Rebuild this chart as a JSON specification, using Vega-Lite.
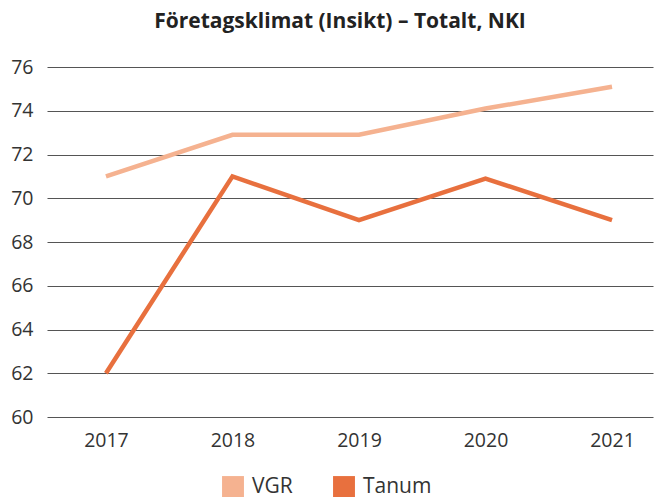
{
  "$schema": "https://vega.github.io/schema/vega-lite/v6.json",
  "width": 606,
  "height": 350,
  "autosize": "none",
  "padding": {"left": 47, "top": 67, "right": 2, "bottom": 80},
  "background": "white",
  "title": {
    "text": "Företagsklimat (Insikt) – Totalt, NKI",
    "font": "Open Sans",
    "fontSize": 21,
    "fontWeight": "bold",
    "color": "#222222",
    "anchor": "middle",
    "dx": -10,
    "offset": 25
  },
  "data": {
    "values": [
      {"year": 2017, "series": "VGR", "value": 71.0},
      {"year": 2018, "series": "VGR", "value": 72.9},
      {"year": 2019, "series": "VGR", "value": 72.9},
      {"year": 2020, "series": "VGR", "value": 74.1},
      {"year": 2021, "series": "VGR", "value": 75.1},
      {"year": 2017, "series": "Tanum", "value": 62.0},
      {"year": 2018, "series": "Tanum", "value": 71.0},
      {"year": 2019, "series": "Tanum", "value": 69.0},
      {"year": 2020, "series": "Tanum", "value": 70.9},
      {"year": 2021, "series": "Tanum", "value": 69.0}
    ]
  },
  "mark": {"type": "line", "strokeWidth": 4.5, "strokeCap": "butt", "strokeJoin": "miter"},
  "encoding": {
    "x": {
      "field": "year",
      "type": "quantitative",
      "scale": {"domain": [2016.534, 2021.324], "nice": false, "zero": false},
      "axis": {
        "title": null,
        "values": [2017, 2018, 2019, 2020, 2021],
        "format": "d",
        "labelAngle": 0,
        "ticks": false,
        "domain": false,
        "grid": false,
        "labelFont": "Open Sans",
        "labelFontSize": 19.5,
        "labelColor": "#333333",
        "labelPadding": 14
      }
    },
    "y": {
      "field": "value",
      "type": "quantitative",
      "scale": {"domain": [60, 76], "nice": false, "zero": false},
      "axis": {
        "title": null,
        "values": [60, 62, 64, 66, 68, 70, 72, 74, 76],
        "ticks": false,
        "domain": false,
        "grid": true,
        "gridColor": "#555555",
        "gridWidth": 1.2,
        "gridOpacity": 1,
        "labelFont": "Open Sans",
        "labelFontSize": 19.5,
        "labelColor": "#333333",
        "labelPadding": 14
      }
    },
    "color": {
      "field": "series",
      "type": "nominal",
      "sort": ["VGR", "Tanum"],
      "scale": {"domain": ["VGR", "Tanum"], "range": ["#F5B290", "#E8703E"]},
      "legend": {
        "title": null,
        "orient": "none",
        "legendX": 175,
        "legendY": 409,
        "direction": "horizontal",
        "symbolType": "square",
        "symbolSize": 480,
        "labelFont": "Open Sans",
        "labelFontSize": 21,
        "labelColor": "#333333",
        "columnPadding": 40,
        "labelOffset": 8,
        "encode": {
          "symbols": {
            "update": {
              "fill": {"scale": "color", "field": "value"},
              "fillOpacity": {"value": 1},
              "strokeWidth": {"value": 0}
            }
          }
        }
      }
    }
  },
  "config": {"view": {"stroke": null}}
}
